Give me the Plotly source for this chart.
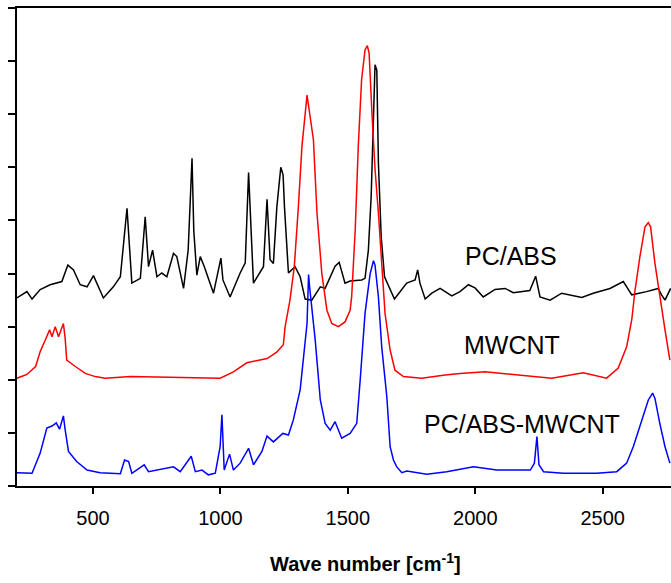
import plotly.graph_objects as go

# PC/ABS (black)
pcabs_x = [201.7, 241, 261, 293, 332, 378, 401.6, 423.7, 450, 477, 502, 541, 580, 607.5,
           633.6, 652.6, 686, 705, 718, 734, 751, 770, 790, 816, 829, 855.5, 873.6, 888.7,
           895.7, 907.7, 921, 937, 973, 1002, 1010, 1038, 1077.5, 1097.5, 1110.6, 1129.7,
           1169, 1183, 1195, 1208, 1221.6, 1237, 1246, 1251.4, 1267, 1293, 1313, 1332.5,
           1358.6, 1392, 1411, 1450, 1466, 1489, 1509, 1554.5, 1567.5, 1580.6, 1591.6,
           1600.7, 1606.7, 1613.7, 1620, 1631, 1644, 1683, 1705, 1731, 1764, 1774, 1783,
           1803.5, 1829.6, 1862, 1908, 1940, 1973, 1999, 2031.5, 2077.7, 2117, 2149, 2214,
           2237, 2254, 2293.6, 2339, 2418, 2463, 2528.6, 2581, 2614, 2672, 2718, 2731,
           2744.5, 2766.6]
pcabs_y = [3.54, 3.66, 3.52, 3.70, 3.79, 3.85, 4.16, 4.07, 3.79, 3.75, 3.96, 3.54, 3.75, 3.94,
           5.23, 3.82, 3.91, 5.07, 4.13, 4.44, 3.94, 4.01, 3.94, 4.38, 4.32, 3.72, 4.44, 6.17,
           4.80, 3.97, 4.32, 4.13, 3.63, 4.29, 3.88, 3.56, 4.01, 4.20, 5.90, 3.82,
           4.13, 5.40, 4.26, 4.19, 5.26, 6.00, 5.86, 5.26, 4.01, 4.13, 3.94, 3.52,
           3.50, 3.75, 3.72, 4.14, 4.21, 3.82, 3.86, 3.88, 3.91, 4.44, 5.45,
           7.02, 7.93, 7.83, 6.08, 4.69, 3.94, 3.52, 3.66, 3.82, 3.88, 4.07, 3.82,
           3.52, 3.63, 3.72, 3.58, 3.66, 3.79, 3.73, 3.56, 3.70, 3.72, 3.64, 3.68,
           3.95, 3.56, 3.50, 3.63, 3.55, 3.63, 3.72, 3.85, 3.60, 3.66, 3.72, 3.60,
           3.50, 3.72]

# MWCNT (red)
mwcnt_x = [201.7, 241, 275, 293, 313, 330, 339, 352, 365, 384, 391, 397, 431, 470, 509, 548,
           647, 999, 1051, 1103.5, 1183, 1221, 1247, 1254, 1273, 1290, 1306, 1320, 1340,
           1365, 1379, 1398, 1418, 1437, 1463, 1489, 1509, 1515, 1529, 1541, 1554, 1567.5,
           1576.5, 1583.6, 1594.6, 1607, 1620, 1633, 1646, 1666, 1685, 1718, 1790, 1882,
           1940, 2038.5, 2182, 2300, 2424, 2476, 2515.5, 2561, 2594, 2614, 2627, 2646,
           2666, 2679, 2688, 2705, 2724, 2744.5, 2763.6]
mwcnt_y = [2.03, 2.10, 2.25, 2.53, 2.75, 2.94, 2.81, 3.00, 2.81, 3.06, 2.78, 2.37, 2.25, 2.12,
           2.06, 2.03, 2.06, 2.03, 2.15, 2.32, 2.40, 2.52, 2.66, 3.00, 3.50, 4.13, 5.26, 6.40,
           7.36, 6.52, 5.14, 4.00, 3.31, 3.06, 3.00, 3.09, 3.31, 3.56, 4.82, 6.39, 7.65, 8.21,
           8.29, 8.15, 7.02, 5.95, 5.14, 4.19, 3.25, 2.56, 2.18, 2.06, 2.03, 2.09,
           2.12, 2.15, 2.09, 2.03, 2.13, 2.07, 2.03, 2.22, 2.62, 3.13, 3.69, 4.32,
           4.88, 4.96, 4.88, 4.19, 3.56, 2.94, 2.37]

# PC/ABS-MWCNT (blue)
comp_x = [201.7, 261, 293, 319, 339, 356, 369, 384, 390, 404, 436, 477, 528, 607.5, 624, 640,
          652.6, 701, 718, 751, 816, 842.5, 885.6, 901.7, 927.8, 953, 980, 999, 1006, 1015,
          1036, 1051, 1077.5, 1110.6, 1130, 1163, 1183, 1208, 1245, 1267, 1286, 1313, 1340,
          1346, 1350, 1372, 1392, 1411, 1431, 1450, 1476, 1509, 1535, 1548.6, 1567.5,
          1587.6, 1600.7, 1606.7, 1620, 1633, 1653, 1666, 1679, 1692, 1712, 1731, 1810,
          1888, 1993, 2085, 2216, 2232, 2242, 2250, 2268, 2346, 2476, 2555, 2594, 2620,
          2653, 2679, 2696, 2705, 2724, 2744.5, 2763.6]
comp_y = [0.25, 0.24, 0.62, 1.09, 1.13, 1.19, 1.07, 1.32, 1.09, 0.65, 0.46, 0.30, 0.25, 0.23,
          0.49, 0.46, 0.24, 0.40, 0.27, 0.30, 0.36, 0.27, 0.56, 0.27, 0.30, 0.21, 0.24, 0.74,
          1.34, 0.30, 0.60, 0.30, 0.43, 0.71, 0.40, 0.65, 0.94, 0.83, 0.99, 0.96, 1.24, 1.81,
          3.06, 3.98, 3.75, 2.75, 1.62, 1.18, 1.05, 1.21, 0.90, 0.99, 1.18, 2.00, 3.25,
          4.00, 4.24, 4.16, 3.56, 2.62, 1.68, 0.74, 0.49, 0.36, 0.25, 0.28, 0.22,
          0.27, 0.36, 0.30, 0.30, 0.43, 0.93, 0.40, 0.27, 0.24, 0.24, 0.27, 0.43, 0.74,
          1.24, 1.62, 1.75, 1.65, 1.18, 0.74, 0.43]

x_ticks = [500, 1000, 1500, 2000, 2500]
y_ticks = [0, 1, 2, 3, 4, 5, 6, 7, 8, 9]

labels = ["PC/ABS", "MWCNT", "PC/ABS-MWCNT"]
label_x = [2140, 2144, 2183]
label_y = [4.33, 2.66, 1.17]

FONT = "Arial, Liberation Sans, sans-serif"

fig = go.Figure()
fig.add_trace(go.Scatter(x=pcabs_x, y=pcabs_y, mode="lines", line=dict(color="black", width=1.5)))
fig.add_trace(go.Scatter(x=mwcnt_x, y=mwcnt_y, mode="lines", line=dict(color="#ff0000", width=1.5)))
fig.add_trace(go.Scatter(x=comp_x, y=comp_y, mode="lines", line=dict(color="#0000ff", width=1.5)))

for t, lx, ly in zip(labels, label_x, label_y):
    fig.add_annotation(x=lx, y=ly, text=t, showarrow=False, xanchor="center", yanchor="middle",
                       font=dict(family=FONT, size=25, color="black"))

fig.add_annotation(xref="paper", yref="paper", x=0.5336, y=-0.159, xanchor="center", yanchor="middle",
                   text="<b>Wave number [cm<sup>-1</sup>]</b>", showarrow=False,
                   font=dict(family=FONT, size=20, color="black"))

fig.update_layout(
    width=671, height=583,
    margin=dict(l=17, r=0, t=8, b=97),
    plot_bgcolor="white", paper_bgcolor="white",
    showlegend=False,
    font=dict(family=FONT, color="black"),
)
fig.update_xaxes(range=[202, 2768], tickvals=x_ticks, ticks="outside", ticklen=6, tickwidth=2,
                 tickcolor="black", showline=True, linewidth=2, linecolor="black", mirror=True,
                 showgrid=False, zeroline=False, ticklabelstandoff=7,
                 tickfont=dict(family=FONT, size=20, color="black"))
fig.update_yaxes(range=[0, 9], tickvals=y_ticks, ticks="outside", ticklen=7, tickwidth=2,
                 tickcolor="black", showline=True, linewidth=2, linecolor="black", mirror=False,
                 showgrid=False, zeroline=False, showticklabels=False)

fig.write_html("out.html")
